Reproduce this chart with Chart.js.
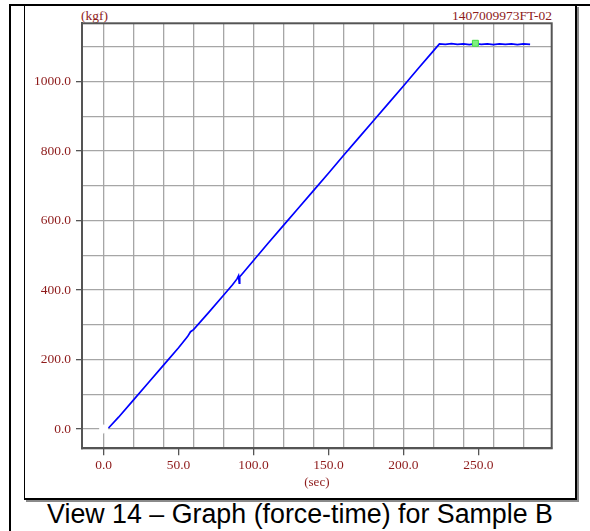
<!DOCTYPE html>
<html>
<head>
<meta charset="utf-8">
<script src="https://cdn.jsdelivr.net/npm/chart.js@4.4.1/dist/chart.umd.min.js"></script>
<style>
  html, body { margin: 0; padding: 0; background: #fff; }
  #wrap { position: relative; width: 590px; height: 531px; overflow: hidden; }
  .ln { position: absolute; background: #000; }
  #box { position: absolute; left: 24px; top: 5px; width: 550px; height: 493px;
         border-left: 1px solid #000; border-right: 2px solid #000; border-bottom: 2px solid #000;
         box-shadow: 2px 2px 0 #8a8a8a; }
  #c { position: absolute; left: 0; top: 0; }
  .lbl { position: absolute; font-family: 'Liberation Serif', 'Times New Roman', serif; font-size: 13.5px; color: #8e1b1b; white-space: nowrap; line-height: 1; }
  #ylab { left: 81px; top: 9px; }
  #idlab { right: 38px; top: 9px; }
  #cap { position: absolute; left: 0; width: 600px; top: 501px; text-align: center;
         font-family: 'Liberation Sans', Arial, sans-serif; font-size: 26.8px; color: #000; white-space: nowrap; line-height: 1; }
</style>
</head>
<body>
<div id="wrap">
  <div id="box"></div>
  <div class="ln" style="left:9px; top:4px; width:581px; height:2px;"></div>
  <div class="ln" style="left:9px; top:4px; width:2px; height:527px;"></div>
  <div class="lbl" id="ylab">(kgf)</div>
  <div class="lbl" id="idlab">1407009973FT-02</div>
  <div id="cap">View 14 – Graph (force-time) for Sample B</div>
  <canvas id="c" width="590" height="531"></canvas>
</div>
<script>
// ---- data ----
const timeSec  = [3.3, 10, 20, 30, 40, 50, 56, 58, 60, 70, 80, 86, 89, 90, 90.3, 90.5, 90.8, 92, 100, 110, 120, 130, 140, 150, 160, 170, 180, 190, 200, 210, 220, 224, 228, 232, 236, 240, 244, 248, 252, 256, 260, 264, 268, 272, 276, 280, 284.5];
const forceKgf = [3, 34, 84, 134, 184, 234, 266, 280, 286, 335, 385, 415, 432, 441, 428, 420, 438, 444, 485, 536, 586, 636, 686, 736, 787, 837, 887, 937, 987, 1038, 1088, 1108, 1107, 1109, 1107, 1108, 1106, 1109, 1107, 1108, 1106, 1108, 1107, 1108, 1106, 1108, 1107];
const markerTime = [248];
const markerForce = [1110];
const originTime = [0];
const originForce = [0];

const xTickLabels = [0, 50, 100, 150, 200, 250];
const xGridValues = [0, 20, 40, 60, 80, 100, 120, 140, 160, 180, 200, 220, 240, 260, 280];
const yTickLabels = [0, 200, 400, 600, 800, 1000];
const yGridValues = [0, 100, 200, 300, 400, 500, 600, 700, 800, 900, 1000, 1100];
const xTitle = '(sec)';

// ---- styles ----
const labelColor = '#8e1b1b';
const gridColor = '#a6a6a6';
const frameColor = '#555555';
const tickFont = { family: "'Liberation Serif', 'Times New Roman', serif", size: 13.5 };

const toPts = (xs, ys) => xs.map((x, i) => ({ x: x, y: ys[i] }));
const xAllTicks = Array.from(new Set([...xGridValues, ...xTickLabels])).sort((a, b) => a - b);

const frame = {
  id: 'frame',
  afterDraw(chart) {
    const { ctx, chartArea: a } = chart;
    ctx.save();
    ctx.strokeStyle = frameColor;
    ctx.lineWidth = 2;
    ctx.strokeRect(a.left, a.top, a.right - a.left, a.bottom - a.top);
    ctx.restore();
  }
};

new Chart(document.getElementById('c'), {
  type: 'scatter',
  data: {
    datasets: [
      { data: toPts(originTime, originForce), pointStyle: 'circle', pointRadius: 4,
        backgroundColor: '#ffffff', borderColor: '#ffffff', showLine: false, order: 3 },
      { data: toPts(timeSec, forceKgf), showLine: true, borderColor: '#0000ff', borderWidth: 1.7,
        pointRadius: 0, tension: 0, fill: false, order: 2 },
      { data: toPts(markerTime, markerForce), pointStyle: 'rect', pointRadius: 4.2,
        backgroundColor: '#80f080', borderColor: '#44dd44', borderWidth: 1, showLine: false, order: 1 }
    ]
  },
  options: {
    responsive: false,
    animation: false,
    events: [],
    layout: { padding: { left: 0, top: 23.3, right: 38.3, bottom: 40.2 } },
    plugins: { legend: { display: false }, tooltip: { enabled: false } },
    scales: {
      x: {
        type: 'linear', min: -14.4, max: 298.9,
        afterBuildTicks: s => { s.ticks = xAllTicks.map(v => ({ value: v })); },
        afterFit: s => { s.height = 42.5; },
        grid: {
          color: c => (c.tick && xGridValues.includes(c.tick.value)) ? gridColor : 'rgba(0,0,0,0)',
          tickColor: c => (c.tick && xTickLabels.includes(c.tick.value)) ? frameColor : 'rgba(0,0,0,0)',
          lineWidth: 1.3, tickWidth: 1.3, tickLength: 7, drawTicks: true
        },
        border: { display: true, color: frameColor, width: 2 },
        ticks: {
          autoSkip: false, maxRotation: 0, minRotation: 0, padding: 2,
          color: labelColor, font: tickFont,
          callback: v => xTickLabels.includes(v) ? v.toFixed(1) : ''
        },
        title: { display: true, text: xTitle, color: labelColor, padding: 0,
                 font: { family: "'Liberation Serif', 'Times New Roman', serif", size: 13 } }
      },
      y: {
        type: 'linear', min: -55.5, max: 1167.5,
        afterBuildTicks: s => { s.ticks = yGridValues.map(v => ({ value: v })); },
        afterFit: s => { s.width = 82; },
        grid: {
          color: gridColor,
          tickColor: c => (c.tick && yTickLabels.includes(c.tick.value)) ? frameColor : 'rgba(0,0,0,0)',
          lineWidth: 1.3, tickWidth: 1.3, tickLength: 6, drawTicks: true
        },
        border: { display: true, color: frameColor, width: 2 },
        ticks: {
          autoSkip: false, padding: 5,
          color: labelColor, font: tickFont,
          callback: v => yTickLabels.includes(v) ? v.toFixed(1) : ''
        }
      }
    }
  },
  plugins: [frame]
});
</script>
</body>
</html>
